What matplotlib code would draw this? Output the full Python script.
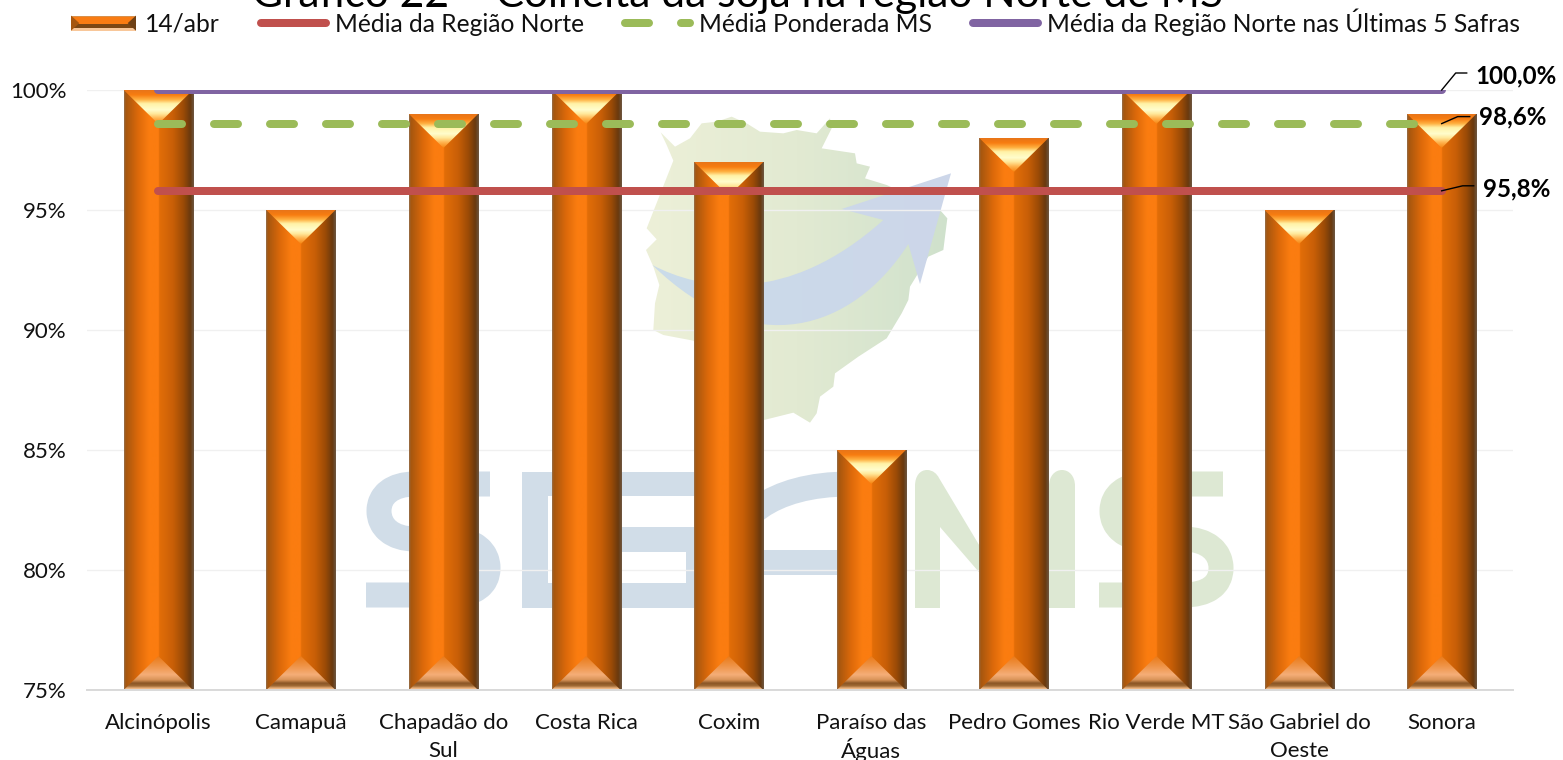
import numpy as np
import matplotlib
matplotlib.use("Agg")
import matplotlib.pyplot as plt
from matplotlib.colors import LinearSegmentedColormap
from matplotlib.legend_handler import HandlerBase
from matplotlib.lines import Line2D
from matplotlib.patches import PathPatch, Polygon, Rectangle
from matplotlib.path import Path
from matplotlib.transforms import IdentityTransform

# ---- data ----
municipios = ["Alcinópolis", "Camapuã", "Chapadão do\nSul", "Costa Rica", "Coxim",
              "Paraíso das\nÁguas", "Pedro Gomes", "Rio Verde MT",
              "São Gabriel do\nOeste", "Sonora"]
colheita_14abr = [100, 95, 99, 100, 97, 85, 98, 100, 95, 99]
media_norte = 95.8
media_ponderada_ms = 98.6
media_norte_5_safras = 100.0
y_ticks = [75, 80, 85, 90, 95, 100]

titulo = "Gráfico 22 – Colheita da soja na região Norte de MS"
rotulos_legenda = ["14/abr", "Média da Região Norte", "Média Ponderada MS",
                   "Média da Região Norte nas Últimas 5 Safras"]

W, H = 1563, 760
plt.rcParams["font.family"] = ["Lato", "DejaVu Sans"]
FS_TICK = 16.0
FS_LEG = 17.7

fig = plt.figure(figsize=(W / 100, H / 100), dpi=100, facecolor="white")


def px_rect(left, top, right, bottom):
    return [left / W, 1 - bottom / H, (right - left) / W, (bottom - top) / H]


def ramp(stops):
    return LinearSegmentedColormap.from_list("ramp", stops, N=512)


def gradient(axis, stops, extent, horizontal, clip, zorder):
    g = np.linspace(0, 1, 512)
    arr = g[None, :] if horizontal else g[:, None]
    im = axis.imshow(arr, cmap=ramp(stops), extent=extent, origin="upper",
                     aspect="auto", zorder=zorder, interpolation="bilinear", vmin=0, vmax=1)
    im.set_clip_path(clip)
    return im


# ---- background logo, in pixel coordinates ----
bg = fig.add_axes([0, 0, 1, 1], zorder=-1)
bg.axis("off")


def mp(x, y):
    return 620 + x / 3, 100 + y / 3


contorno_mapa = [(122, 97), (140, 135), (160, 182), (80, 385), (110, 418), (78, 450), (100, 500),
                 (118, 555), (105, 610), (100, 690), (130, 705), (220, 722), (432, 960), (520, 938),
                 (570, 968), (590, 940), (600, 890), (640, 860), (645, 820), (715, 770), (800, 715),
                 (845, 640), (865, 600), (870, 560), (925, 470), (970, 450), (982, 355), (960, 330),
                 (800, 255), (735, 235), (750, 200), (710, 190), (705, 160), (605, 145), (635, 85),
                 (630, 55), (590, 100), (530, 90), (490, 100), (420, 95), (380, 70), (335, 50),
                 (290, 65), (245, 70), (210, 115), (165, 140)]
mapa = Polygon([mp(*q) for q in contorno_mapa], closed=True, transform=bg.transData, fc="none", ec="none")
bg.add_patch(mapa)
gradient(bg, ["#edf0d8", "#e2ead2", "#cfe1cc"], (645, 950, 430, 115), True, mapa, 1)

seta_v = [(97, 495), (240, 570), (500, 620), (790, 360), (665, 327), (993, 220), (900, 552), (865, 432),
          (700, 690), (400, 790), (97, 495)]
seta_c = [Path.MOVETO, Path.CURVE4, Path.CURVE4, Path.CURVE4, Path.LINETO, Path.LINETO, Path.LINETO,
          Path.LINETO, Path.CURVE4, Path.CURVE4, Path.CURVE4]
seta = PathPatch(Path([mp(*q) for q in seta_v], seta_c), transform=bg.transData, fc="none", ec="none")
bg.add_patch(seta)
gradient(bg, ["#cadcea", "#cdd6e9"], (650, 955, 430, 170), True, seta, 2)

AZUL, VERDE = "#d1dde8", "#dde8d3"
STROKE = 25 * 0.72


def letra_s(dx, color):
    v = [(490, 484), (415, 484), (392, 484), (379, 495), (379, 511), (379, 527), (392, 539), (415, 539),
         (450, 539), (475, 539), (488, 552), (488, 568), (488, 585), (475, 595), (450, 595), (366, 595)]
    c = [Path.MOVETO, Path.LINETO, Path.CURVE4, Path.CURVE4, Path.CURVE4, Path.CURVE4, Path.CURVE4, Path.CURVE4,
         Path.LINETO, Path.CURVE4, Path.CURVE4, Path.CURVE4, Path.CURVE4, Path.CURVE4, Path.CURVE4, Path.LINETO]
    bg.add_patch(PathPatch(Path([(x + dx, y) for x, y in v], c), fc="none", ec=color, lw=STROKE,
                           capstyle="butt", joinstyle="round", zorder=3))


def bloco(x0, y0, x1, y1, color):
    bg.add_patch(Rectangle((x0, y0), x1 - x0, y1 - y0, fc=color, ec="none", zorder=3))


letra_s(0, AZUL)
letra_s(733, VERDE)
# G
bloco(522, 472, 548, 608, AZUL)
bloco(522, 472, 700, 496, AZUL)
bloco(590, 527, 710, 552, AZUL)
bloco(686, 527, 710, 608, AZUL)
bloco(522, 583, 710, 608, AZUL)
# A
bg.add_patch(PathPatch(Path([(730, 608), (730, 560), (730, 520), (770, 484), (850, 484)],
                            [Path.MOVETO, Path.LINETO, Path.CURVE4, Path.CURVE4, Path.CURVE4]),
                       fc="none", ec=AZUL, lw=STROKE, capstyle="butt", zorder=3))
bloco(725, 550, 850, 575, AZUL)
# M
m_v = [(915, 608), (915, 486), (915, 476), (920, 470), (927, 470), (933, 470), (937, 474), (939, 478),
       (1012, 600), (1049, 520), (1049, 486), (1049, 476), (1055, 470), (1062, 470), (1069, 470), (1075, 476),
       (1075, 486), (1075, 608), (1010, 608), (940, 527), (940, 608), (915, 608)]
m_c = [Path.MOVETO, Path.LINETO, Path.CURVE4, Path.CURVE4, Path.CURVE4, Path.CURVE4, Path.CURVE4, Path.CURVE4,
       Path.LINETO, Path.LINETO, Path.LINETO, Path.CURVE4, Path.CURVE4, Path.CURVE4, Path.CURVE4, Path.CURVE4,
       Path.CURVE4, Path.LINETO, Path.LINETO, Path.LINETO, Path.LINETO, Path.CLOSEPOLY]
bg.add_patch(PathPatch(Path(m_v, m_c), fc=VERDE, ec="none", zorder=3))
bg.set_xlim(0, W)
bg.set_ylim(H, 0)

# ---- chart ----
ax = fig.add_axes(px_rect(87, 90, 1513, 690), facecolor="none")
x = np.arange(len(municipios))
ax.set_xlim(-0.5, len(municipios) - 0.5)
ax.set_ylim(75, 100)

CORPO = [(0, "#94704e"), (0.025, "#a5560f"), (0.2, "#dc690a"), (0.36, "#fb7d10"), (0.495, "#fb7c10"),
         (0.505, "#e36e08"), (0.7, "#c95f07"), (0.85, "#9b4b06"), (0.95, "#69390f"), (1, "#6e5843")]
TOPO = [(0, "#e8751a"), (0.14, "#f77c10"), (0.28, "#ffb040"), (0.4, "#fff2a6"), (0.58, "#fffdcc"),
        (0.7, "#ffe89a"), (0.84, "#ffb24d"), (1, "#f6830f")]
BASE = [(0, "#ea7a18"), (0.25, "#ee9040"), (0.55, "#f5ae78"), (0.7, "#d99458"), (0.8, "#8a5525"),
        (0.88, "#a06a35"), (0.95, "#eeb480"), (1, "#f8cfa5")]

barras = ax.bar(x, colheita_14abr, width=0.485, bottom=0, color="#f57a10", zorder=2)
bevel = 34 / 24  # bevel height, in percentage points on the value axis
for b in barras:
    x0, w, topo = b.get_x(), b.get_width(), b.get_height()
    cx = x0 + w / 2
    corpo_clip = Rectangle((x0, 75), w, topo - 75, transform=ax.transData)
    gradient(ax, CORPO, (x0, x0 + w, 75, topo), True, corpo_clip, 2.1)
    tri_topo = Polygon([(x0, topo), (x0 + w, topo), (cx, topo - bevel)], transform=ax.transData)
    gradient(ax, TOPO, (x0, x0 + w, topo - bevel, topo), False, tri_topo, 2.2)
    tri_base = Polygon([(x0, 75), (x0 + w, 75), (cx, 75 + bevel)], transform=ax.transData)
    gradient(ax, BASE, (x0, x0 + w, 75, 75 + bevel), False, tri_base, 2.2)
ax.set_xlim(-0.5, len(municipios) - 0.5)
ax.set_ylim(75, 100)

LW = 8 * 0.72
VERMELHO, VERDE_L, ROXO = "#c0504d", "#9bbb59", "#8064a2"
ax.plot(x, [media_norte] * len(x), color=VERMELHO, lw=LW, solid_capstyle="round", zorder=3)
ax.plot(x, [media_ponderada_ms] * len(x), color=VERDE_L, lw=LW, ls=(0, (3, 4)),
        dash_capstyle="round", zorder=3)
ax.plot(x, [media_norte_5_safras] * len(x), color=ROXO, lw=LW, solid_capstyle="round", zorder=3)

ax.set_yticks(y_ticks, [f"{v}%" for v in y_ticks])
ax.set_xticks(x, municipios)
ax.yaxis.grid(True, color="#f0f0f0", lw=1.0, zorder=1)
ax.set_axisbelow(True)
for nome in ("left", "right", "top"):
    ax.spines[nome].set_visible(False)
ax.spines["bottom"].set_color("#d9d9d9")
ax.spines["bottom"].set_linewidth(1.4)
ax.tick_params(axis="both", length=0, labelsize=FS_TICK, labelcolor="#111111")
ax.tick_params(axis="x", pad=16.5)
ax.tick_params(axis="y", pad=14.5)
for t in ax.get_xticklabels():
    # accented capitals raise the line height, so those labels get tighter spacing
    t.set_linespacing(1.25 if "Á" in t.get_text() else 1.53)

# value labels with leader lines, offsets in pixels from the last point
rotulos = [(media_norte_5_safras, "100,0%", [(0, 0), (14, 17), (25, 17)], (34, 14)),
           (media_ponderada_ms, "98,6%", [(0, 0), (16, 7), (28, 7)], (37, 7)),
           (media_norte, "95,8%", [(0, 0), (21, 5), (32, 5)], (41, 2))]
for valor, texto, trecho, pos in rotulos:
    ax_x, ax_y = ax.transData.transform((x[-1], valor))
    fig.add_artist(Line2D([ax_x + p[0] for p in trecho], [ax_y + p[1] for p in trecho],
                          transform=IdentityTransform(), color="black", lw=1.0, zorder=5))
    ax.annotate(texto, (x[-1], valor), xytext=pos, textcoords="offset pixels", ha="left", va="center",
                fontsize=17.4, fontweight="bold", color="black", annotation_clip=False, zorder=6)


# ---- legend ----
class HandlerBarra(HandlerBase):
    def create_artists(self, legend, orig, xd, yd, width, height, fontsize, trans):
        h = height * 0.88
        y0 = -yd + (height - h) / 2
        arts = []
        faixas = [(0.0, 0.2, "#f8c79a"), (0.2, 0.47, "#7c4714"), (0.47, 0.92, "#f97c13"), (0.92, 1.0, "#d9904a")]
        for a, c, cor in faixas:
            arts.append(Rectangle((-xd, y0 + a * h), width, (c - a) * h, fc=cor, ec="none", transform=trans))
        dh = h * 0.55
        arts.append(Polygon([(-xd, y0), (-xd + dh, y0 + h * .5), (-xd, y0 + h)], fc="#a5560f", ec="none", transform=trans))
        arts.append(Polygon([(-xd + width, y0), (-xd + width - dh, y0 + h * .5), (-xd + width, y0 + h)],
                            fc="#6e4015", ec="none", transform=trans))
        return arts


pct = Rectangle((0, 0), 1, 1)
handles = [pct,
           Line2D([], [], color=VERMELHO, lw=LW, solid_capstyle="round"),
           Line2D([], [], color=VERDE_L, lw=LW, ls=(0, (3, 4)), dash_capstyle="round"),
           Line2D([], [], color=ROXO, lw=LW, solid_capstyle="round")]
fs_px = FS_LEG * 100 / 72
leg = fig.legend(handles, rotulos_legenda, ncol=4, loc="center left",
                 bbox_to_anchor=(71 / W, 1 - 22 / H), frameon=False, fontsize=FS_LEG,
                 handlelength=65 / fs_px, handletextpad=9 / fs_px, columnspacing=41 / fs_px,
                 borderpad=0, borderaxespad=0, handler_map={pct: HandlerBarra()})
for t in leg.get_texts():
    t.set_color("#111111")

# Title sits at the very top edge of the figure
fig.text(737.5 / W, 1 - 7 / H, titulo, ha="center", va="baseline", fontsize=30.6, color="black")

fig.savefig("out.png", dpi=100, facecolor="white")
